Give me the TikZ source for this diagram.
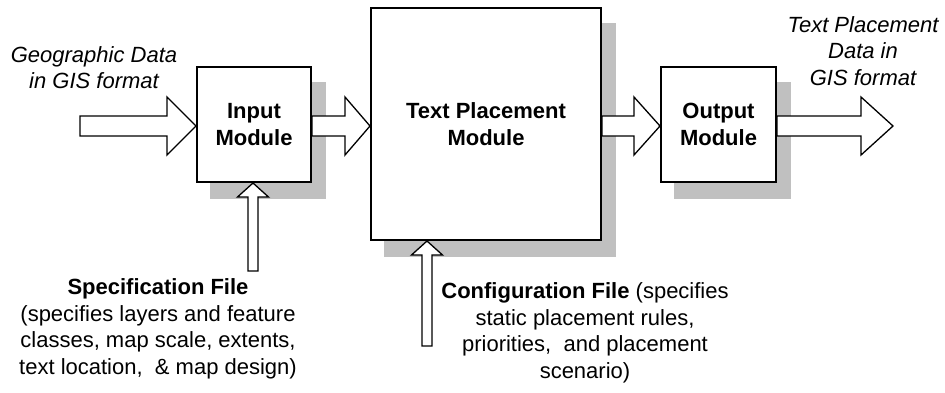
\documentclass[tikz,border=0pt]{standalone}
\usepackage{fontspec}
\setmainfont{Liberation Sans}
\usetikzlibrary{calc,backgrounds}
\definecolor{shadowgray}{RGB}{192,192,192}
\tikzset{
  module/.style={draw, line width=2pt, fill=white, inner sep=0pt, align=center,
    font=\fontsize{22}{26.5}\selectfont\bfseries},
  shadowfill/.style={fill=shadowgray},
  blockarrow/.style={draw, fill=white, line width=1.3pt, line join=miter},
  note/.style={align=center, inner sep=0pt, font=\fontsize{22}{26.5}\selectfont},
}
% horizontal block arrow: tail, tip, head length
\newcommand\hblockarrow[3]{%
  \draw[blockarrow] let \p1=(#1), \p2=(#2) in
    (\x1,\y1+10pt) -- (\x2-#3pt,\y1+10pt) -- (\x2-#3pt,\y1+29pt) -- (\x2,\y1)
    -- (\x2-#3pt,\y1-29pt) -- (\x2-#3pt,\y1-10pt) -- (\x1,\y1-10pt) -- cycle;}
% upward block arrow: tail (below), tip
\newcommand\vblockarrow[2]{%
  \draw[blockarrow] let \p1=(#1), \p2=(#2) in
    (\x2-5pt,\y1) -- (\x2-5pt,\y2-14pt) -- (\x2-15.5pt,\y2-14pt) -- (\x2,\y2)
    -- (\x2+15.5pt,\y2-14pt) -- (\x2+5pt,\y2-14pt) -- (\x2+5pt,\y1) -- cycle;}
\begin{document}
\begin{tikzpicture}[x=1pt,y=-1pt]
\useasboundingbox (0,0) rectangle (945,392);

% modules
\node[module, minimum width=114pt, minimum height=115pt] (in) at (254,124.5) {Input\\Module};
\node[module, minimum width=230pt, minimum height=232pt] (tpm) at (486,124) {Text Placement\\Module};
\node[module, minimum width=115pt, minimum height=115pt] (out) at (718.5,124.5) {Output\\Module};

% drop shadows
\begin{scope}[on background layer]
  \foreach \b in {in,tpm,out}
    \fill[shadowfill] ([shift={(14,16)}]\b.north west) rectangle ([shift={(14,16)}]\b.south east);
\end{scope}

% free ends of the block arrows
\coordinate (src) at (80,126);
\coordinate (dst) at (893,126);
\coordinate (spectail) at (253,271);
\coordinate (cfgtail) at (427,346);

% data flow
\hblockarrow{src}{in.west}{29}
\hblockarrow{in.east |- src}{tpm.west |- src}{25}
\hblockarrow{tpm.east |- src}{out.west |- src}{26}
\hblockarrow{out.east |- src}{dst}{32}
\vblockarrow{spectail}{spectail |- in.south}
\vblockarrow{cfgtail}{cfgtail |- tpm.south}

% labels
\node[note, font=\fontsize{22}{26.5}\selectfont\itshape] (geo) at (94,67.5)
  {Geographic Data\\in GIS format};
\node[note, font=\fontsize{22}{26.5}\selectfont\itshape] (outtxt) at (863,51)
  {Text Placement\\Data in\\GIS format};
\node[note] (spec) at (158,329)
  {\textbf{Specification File}\\(specifies layers and feature\\classes, map scale, extents,\\text location,\ \ \& map design)};
\node[note] (cfg) at (585,333)
  {\textbf{Configuration File} (specifies\\static placement rules,\\priorities,\ \ and placement\\scenario)};
\end{tikzpicture}
\end{document}
